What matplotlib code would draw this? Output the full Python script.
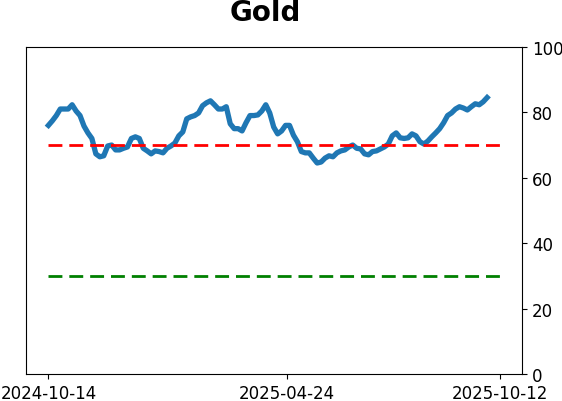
import pandas as pd
import matplotlib
matplotlib.use("Agg")
import matplotlib.pyplot as plt

# valores (indicador del oro)
valores = [76, 77.4, 79, 81, 81, 81, 82.3, 80.4, 79, 75.8, 73.7, 72, 67.3, 66.4, 66.7,
           69.7, 70, 68.5, 68.5, 69, 69.4, 72, 72.5, 72, 69, 68.2, 67.3, 68.2, 68, 67.6,
           69, 69.7, 70.6, 72.8, 74, 78, 78.6, 79, 79.8, 82, 82.9, 83.5, 82.3, 81, 81,
           81.7, 76.5, 75, 75, 74.3, 76.8, 79, 79, 79.2, 80.4, 82.3, 79.8, 75.5, 73.4,
           74.3, 76, 76, 73, 71, 68, 67.6, 67.6, 66, 64.5, 64.8, 66, 66.7, 66.4, 67.6,
           68.2, 68.5, 69.4, 70, 69, 68.8, 67.3, 67, 68, 68.2, 68.8, 69.4, 70.3, 72.8,
           73.7, 72.2, 72, 72.2, 73.4, 72.8, 71, 70.3, 71.2, 72.5, 73.7, 75, 76.8, 79,
           79.8, 81, 81.7, 81.3, 80.7, 81.7, 82.6, 82.3, 83.2, 84.5]
fecha_inicio = "2024-10-14"
fecha_ultimo_dato = "2025-10-02"
fecha_fin = "2025-10-12"
nivel_alto = 70
nivel_bajo = 30
etiquetas_x = ["2024-10-14", "2025-04-24", "2025-10-12"]

fechas = pd.date_range(fecha_inicio, fecha_ultimo_dato, periods=len(valores))
extremos = pd.to_datetime([fecha_inicio, fecha_fin])

fig = plt.figure(figsize=(5.62, 4.02), dpi=100)
ax = fig.add_axes([0.046, 0.067, 0.883, 0.814])

ax.plot(fechas, valores, color="#1f77b4", linewidth=3.8)
ax.plot(extremos, [nivel_alto, nivel_alto], color="r", linestyle="--", linewidth=2, dashes=(5, 2.5))
ax.plot(extremos, [nivel_bajo, nivel_bajo], color="g", linestyle="--", linewidth=2, dashes=(5, 2.5))

ax.set_ylim(0, 100)
ax.yaxis.tick_right()
ax.set_yticks([0, 20, 40, 60, 80, 100])
ax.set_xticks(pd.to_datetime(etiquetas_x))
ax.set_xticklabels(etiquetas_x)
ax.tick_params(labelsize=12)
ax.margins(x=0.05)

fig.text(265 / 562, 1 - 13 / 402, "Gold", ha="center", va="center", fontsize=20, fontweight="bold")

fig.savefig("out.png", dpi=100)
